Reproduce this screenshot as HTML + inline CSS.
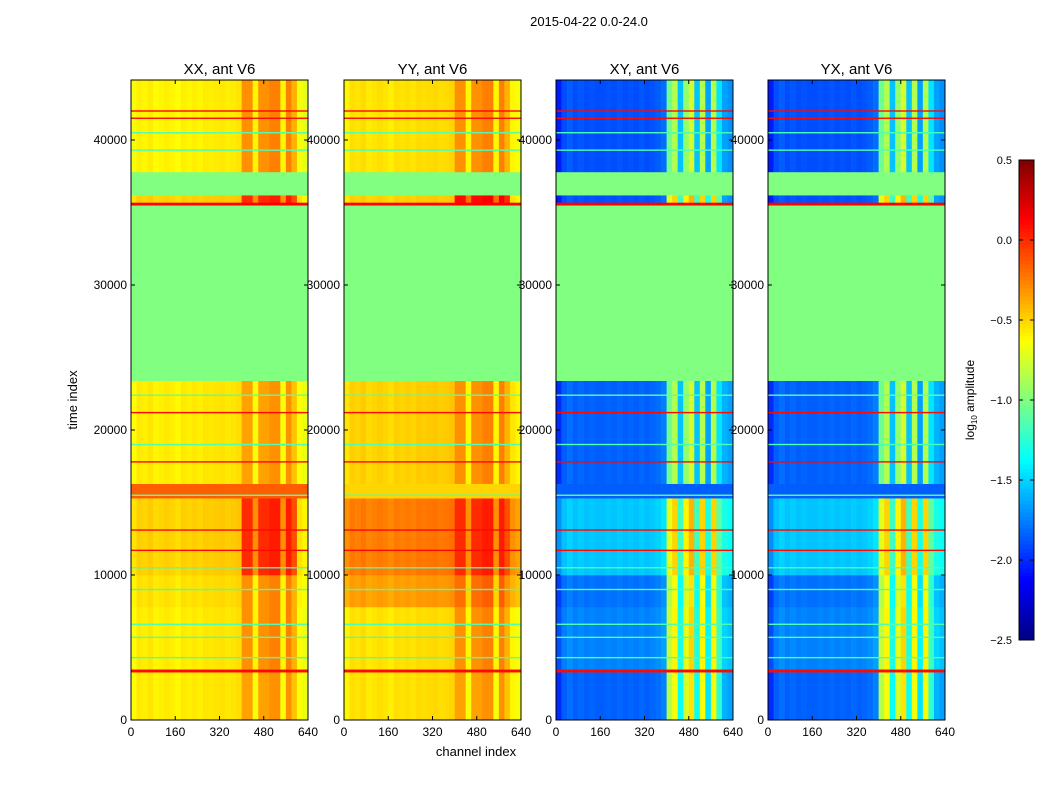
<!DOCTYPE html>
<html><head><meta charset="utf-8">
<style>
body{margin:0;background:#fff;}
svg text{font-family:"Liberation Sans",sans-serif;}
</style></head>
<body>
<svg id="fig" width="1050" height="800" xmlns="http://www.w3.org/2000/svg">
<rect width="1050" height="800" fill="#fff"/>
<text x="589" y="26" font-size="13" text-anchor="middle">2015-04-22 0.0-24.0</text>
<text x="476" y="756" font-size="13" text-anchor="middle">channel index</text>
<text transform="translate(77,400) rotate(-90)" font-size="13" text-anchor="middle">time index</text>
<g id="panels"></g>
<g id="cbar"></g>
</svg>
<script>
// ---- data ----
const panelNames = ["XX, ant V6","YY, ant V6","XY, ant V6","YX, ant V6"];
const bandStart = [0,3300,3500,7800,10000,15300,16300,23400,35500,35700,36200,37800];
const bandEnd   = [3300,3500,7800,10000,15300,16300,23400,35500,35700,36200,37800,44138];
const bandFlat  = [0,1,0,0,0,1,0,1,1,0,1,0];
const xxLow  = [-0.58,0.1,-0.58,-0.55,-0.5,-0.15,-0.58,-1.0,0.1,-0.5,-1.0,-0.6];
const xxHigh = [-0.55,0.1,-0.5,-0.5,-0.2,-0.15,-0.55,-1.0,0.1,-0.2,-1.0,-0.5];
const yyLow  = [-0.55,0.1,-0.55,-0.35,-0.25,-0.5,-0.5,-1.0,0.1,-0.5,-1.0,-0.55];
const yyHigh = [-0.55,0.1,-0.5,-0.4,-0.2,-0.5,-0.5,-1.0,0.1,-0.1,-1.0,-0.5];
const xyLow  = [-1.85,0.1,-1.75,-1.8,-1.55,-1.85,-1.85,-1.0,0.1,-1.9,-1.0,-1.9];
const xyHigh = [-1.05,0.1,-1.0,-1.05,-0.9,-1.2,-1.25,-1.0,0.1,-0.9,-1.0,-1.25];
const yxLow  = [-1.85,0.1,-1.75,-1.8,-1.55,-1.85,-1.85,-1.0,0.1,-1.9,-1.0,-1.9];
const yxHigh = [-1.05,0.1,-1.0,-1.05,-0.9,-1.2,-1.25,-1.0,0.1,-0.9,-1.0,-1.25];
const channelBins = [0,20,40,60,80,100,120,140,160,180,200,220,240,260,280,300,320,340,360,380,400,420,440,460,480,500,520,540,560,580,600,620];
const autoProfile  = [-0.05,0.02,0,0.03,-0.02,0,0.02,0,-0.03,0.02,0,0.02,0,0.03,0.02,0.03,0.04,0.02,0.03,0.05,0.2,0.2,-0.1,0.2,0.2,0.25,0.25,-0.1,0.25,0.1,-0.05,-0.1];
const crossProfile = [-0.15,0,0.05,0,0.03,0,0.02,0,0,0.02,0,0.03,0,0.02,0,0.03,0,0.02,0.05,0.1,0.2,0.4,-0.3,0.3,0.5,-0.3,0.4,-0.4,0.4,-0.2,0.25,0.2];
const lineTimes  = [11700,13100,17800,21200,42000,41500,35600,4300,5700,6600,9000,10500,19000,39300,40500,15500,22400];
const lineValues = [0.1,0.1,0.1,0.1,0.1,0.1,0.15,-1.15,-1.15,-1.15,-1.15,-1.15,-1.15,-1.15,-1.15,-1.1,-1.1];
const xTicks = [0,160,320,480,640];
const yTicks = [0,10000,20000,30000,40000];
const cbTicks = [0.5,0.0,-0.5,-1.0,-1.5,-2.0,-2.5];
// ---- drawing ----
const NS="http://www.w3.org/2000/svg";
const panelX=[131,344,556,768], PW=177, PT=80, PB=720;
const TMAX=44138, VMIN=-2.5, VMAX=0.5;
function xs(p,c){return panelX[p]+c/640*PW;}
function ys(t){return PB-t/TMAX*(PB-PT);}
function jet(v){let x=(v-VMIN)/(VMAX-VMIN);x=Math.max(0,Math.min(1,x));
 const f=(a)=>Math.max(0,Math.min(1,1.5-Math.abs(4*x-a)));
 return `rgb(${Math.round(255*f(3))},${Math.round(255*f(2))},${Math.round(255*f(1))})`;}
function mk(tag,attrs,parent){const e=document.createElementNS(NS,tag);for(const k in attrs)e.setAttribute(k,attrs[k]);parent.appendChild(e);return e;}
const G=document.getElementById('panels');
const lows=[xxLow,yyLow,xyLow,yxLow], highs=[xxHigh,yyHigh,xyHigh,yxHigh];
for(let p=0;p<4;p++){
 const g=mk('g',{},G);
 
 
 const prof=p<2?autoProfile:crossProfile;
 for(let b=0;b<bandStart.length;b++){
  for(let i=0;i<channelBins.length;i++){
   const c0=channelBins[i], c1=i+1<channelBins.length?channelBins[i+1]:640;
   const hi=c0>=400&&c0<600;
   let v=bandFlat[b]?lows[p][b]:(hi?highs[p][b]:lows[p][b])+prof[i];
   const y0=ys(bandEnd[b]), y1=ys(bandStart[b]);
   const r=mk('rect',{x:xs(p,c0),y:y0,width:xs(p,c1)-xs(p,c0)+0.3,height:y1-y0+0.3,fill:jet(v)},g);
   
   
  }
 }
 for(let k=0;k<lineTimes.length;k++){
  const l=mk('rect',{x:panelX[p],y:ys(lineTimes[k])-0.7,width:PW,height:1.4,fill:jet(lineValues[k])},g);
  
  
 }
 mk('rect',{x:panelX[p],y:PT,width:PW,height:PB-PT,fill:'none',stroke:'#000','stroke-width':1},g);
 const t=mk('text',{x:panelX[p]+PW/2,y:74,'font-size':15,'text-anchor':'middle'},g);
 t.textContent=panelNames[p];
 
 
 for(const c of xTicks){
  mk('line',{x1:xs(p,c),x2:xs(p,c),y1:PB,y2:PB-4,stroke:'#000'},g);
  mk('line',{x1:xs(p,c),x2:xs(p,c),y1:PT,y2:PT+4,stroke:'#000'},g);
  const tl=mk('text',{x:xs(p,c),y:736,'font-size':12,'text-anchor':'middle'},g);
  tl.textContent=c;
  
  
 }
 for(const v of yTicks){
  mk('line',{x1:panelX[p],x2:panelX[p]+4,y1:ys(v),y2:ys(v),stroke:'#000'},g);
  mk('line',{x1:panelX[p]+PW,x2:panelX[p]+PW-4,y1:ys(v),y2:ys(v),stroke:'#000'},g);
  const tl=mk('text',{x:panelX[p]-4,y:ys(v)+4,'font-size':12,'text-anchor':'end'},g);
  tl.textContent=v;
  
  
 }
}
// colorbar
const C=document.getElementById('cbar');


const cx=1019,cw=15,ct=160,cb=640;
for(let i=0;i<120;i++){
 const v=VMIN+(i+0.5)/120*(VMAX-VMIN);
 mk('rect',{x:cx,y:cb-(i+1)*(cb-ct)/120,width:cw,height:(cb-ct)/120+0.5,fill:jet(v)},C);
}
mk('rect',{x:cx,y:ct,width:cw,height:cb-ct,fill:'none',stroke:'#000'},C);
for(const v of cbTicks){
 const y=cb-(v-VMIN)/(VMAX-VMIN)*(cb-ct);
 mk('line',{x1:cx,x2:cx+4,y1:y,y2:y,stroke:'#000'},C);
 mk('line',{x1:cx+cw,x2:cx+cw-4,y1:y,y2:y,stroke:'#000'},C);
 const tl=mk('text',{x:1012,y:y+4,'font-size':11,'text-anchor':'end'},C);
 tl.textContent=v.toFixed(1).replace('-','\u2212');
 
 
}
const cl=mk('text',{transform:'translate(974,400) rotate(-90)','font-size':12,'text-anchor':'middle'},C);
cl.innerHTML='log<tspan font-size="8" dy="3">10</tspan><tspan dy="-3"> amplitude</tspan>';


</script>
</body></html>
